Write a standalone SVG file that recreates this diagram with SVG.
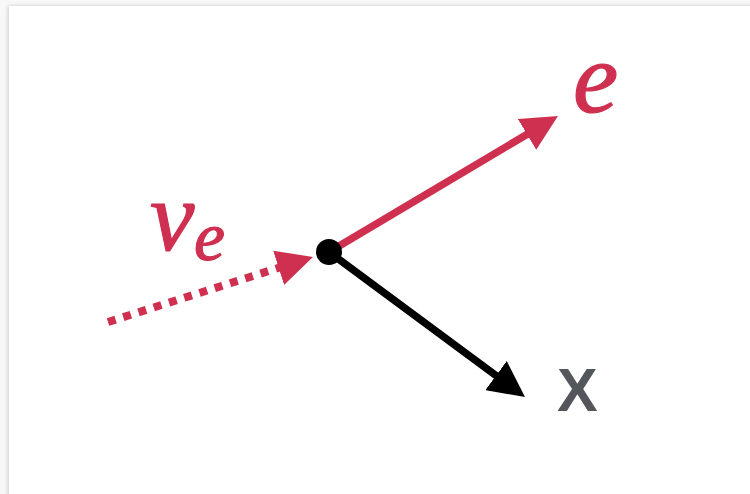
<svg xmlns="http://www.w3.org/2000/svg" width="750" height="494" viewBox="0 0 750 494">
  <defs>
    <style>
      .red { stroke: #cf3050; stroke-width: 7.5; fill: none; }
      .dots { stroke: #cf3050; stroke-width: 8; stroke-dasharray: 8 8; fill: none; }
      .blk { stroke: #000; stroke-width: 7.5; fill: none; }
      .math { font-family: "Liberation Serif", "DejaVu Serif", serif; font-style: italic; fill: #cf3050; stroke: #cf3050; stroke-width: 1.2; }
      .lbl { font-family: "Liberation Sans", Arial, sans-serif; font-weight: bold; fill: #53575c; }
    </style>
    <marker id="ahRed" markerUnits="userSpaceOnUse" markerWidth="36" markerHeight="36" refX="18" refY="18" orient="auto">
      <path d="M0,0 L36,18 L0,36 z" fill="#cf3050"/>
    </marker>
    <marker id="ahBlk" markerUnits="userSpaceOnUse" markerWidth="36" markerHeight="36" refX="18" refY="18" orient="auto">
      <path d="M0,0 L36,18 L0,36 z" fill="#000"/>
    </marker>
    <filter id="sh" x="-5%" y="-5%" width="110%" height="110%">
      <feDropShadow dx="-1" dy="0" stdDeviation="2" flood-color="#000" flood-opacity="0.18"/>
    </filter>
  </defs>
  <rect x="0" y="0" width="750" height="494" fill="#f8f8f8"/>
  <rect x="9" y="6" width="760" height="500" fill="#ffffff" filter="url(#sh)"/>

  <g id="connectors">
    <line class="dots" x1="108" y1="322" x2="295.8" y2="262.4" marker-end="url(#ahRed)"/>
    <line class="red" x1="329" y1="252" x2="542.5" y2="125.2" marker-end="url(#ahRed)"/>
    <line class="blk" x1="329" y1="252" x2="510.5" y2="386.3" marker-end="url(#ahBlk)"/>
  </g>

  <g id="vertex">
    <circle cx="329" cy="252" r="13" fill="#000"/>
  </g>
  <g id="electron">
    <text class="math" x="573" y="112" font-size="102">e</text>
  </g>
  <g id="neutrino">
    <text class="math" x="150" y="250" font-size="100">ν</text>
    <text class="math" x="194" y="260" font-size="70">e</text>
  </g>
  <g id="X">
    <text class="lbl" x="557" y="411" font-size="61">X</text>
  </g>
</svg>
